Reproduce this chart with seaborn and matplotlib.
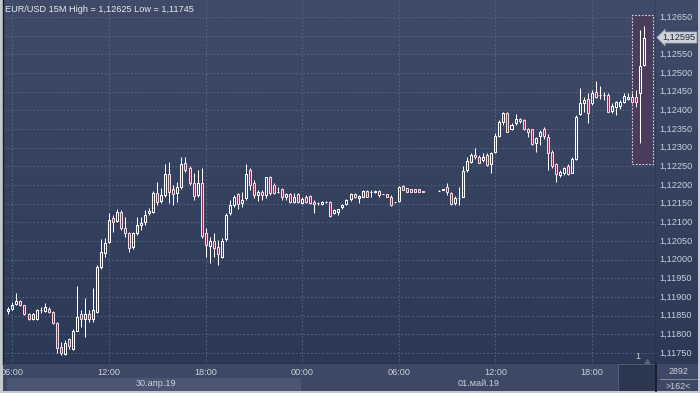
import numpy as np
import pandas as pd
import seaborn as sns
import matplotlib
matplotlib.use('Agg')
import matplotlib.pyplot as plt
import matplotlib.transforms as mtrans
from matplotlib.colors import LinearSegmentedColormap
from matplotlib.patches import Rectangle

# EUR/USD 15 minute candles, 30.04.19 05:45 onwards (nan = no quotes)
nan = np.nan
opens = [1.11862, 1.11869, 1.11882, 1.11888, 1.11878, 1.11854, 1.11842, 1.11842, 1.11864, 1.11863,
         1.11869, 1.11859, 1.11830, 1.11767, 1.11747, 1.11787, 1.11762, 1.11810, 1.11854, 1.11842,
         1.11854, 1.11840, 1.11861, 1.11980, 1.12019, 1.12048, 1.12112, 1.12104, 1.12128, 1.12084,
         1.12071, 1.12033, 1.12071, 1.12093, 1.12102, 1.12124, 1.12128, 1.12179, 1.12158, 1.12173,
         1.12229, 1.12188, 1.12178, 1.12194, 1.12260, 1.12245, 1.12205, 1.12173, 1.12205, 1.12071,
         1.12037, 1.12051, 1.12035, 1.12008, 1.12054, 1.12124, 1.12146, 1.12175, 1.12152, 1.12164,
         1.12240, 1.12205, 1.12173, 1.12182, 1.12173, 1.12221, 1.12200, 1.12182, 1.12188, 1.12169,
         1.12175, 1.12155, 1.12175, 1.12152, 1.12169, 1.12171, 1.12155, 1.12151, 1.12149, 1.12154,
         1.12154, 1.12124, 1.12128, 1.12140, 1.12149, 1.12162, 1.12175, 1.12164, 1.12169, 1.12184,
         1.12181, 1.12180, 1.12184, 1.12176, 1.12175, 1.12169, 1.12154, 1.12158, 1.12198, 1.12191,
         1.12188, 1.12188, 1.12188, 1.12183, nan, nan, nan, 1.12185, 1.12187, 1.12194,
         1.12179, 1.12152, 1.12164, 1.12169, 1.12240, 1.12262, 1.12280, 1.12276, 1.12267, 1.12280,
         1.12255, 1.12289, 1.12331, 1.12370, 1.12394, 1.12349, 1.12365, 1.12377, 1.12374, 1.12349,
         1.12349, 1.12312, 1.12331, 1.12349, 1.12329, 1.12289, 1.12255, 1.12227, 1.12231, 1.12251,
         1.12233, 1.12269, 1.12390, 1.12419, 1.12430, 1.12420, 1.12450, 1.12441, 1.12441, 1.12441,
         1.12399, 1.12410, 1.12412, 1.12423, 1.12430, 1.12435, 1.12435, 1.12446, 1.12521]
highs = [1.11874, 1.11887, 1.11911, 1.11892, 1.11879, 1.11857, 1.11857, 1.11868, 1.11872, 1.11883,
         1.11873, 1.11862, 1.11833, 1.11780, 1.11785, 1.11789, 1.11813, 1.11929, 1.11865, 1.11897,
         1.11865, 1.11923, 1.11986, 1.12054, 1.12058, 1.12124, 1.12120, 1.12135, 1.12133, 1.12115,
         1.12075, 1.12074, 1.12115, 1.12113, 1.12133, 1.12138, 1.12184, 1.12209, 1.12191, 1.12256,
         1.12262, 1.12200, 1.12209, 1.12276, 1.12274, 1.12251, 1.12231, 1.12240, 1.12245, 1.12085,
         1.12062, 1.12071, 1.12053, 1.12057, 1.12124, 1.12160, 1.12173, 1.12179, 1.12182, 1.12256,
         1.12245, 1.12213, 1.12187, 1.12187, 1.12222, 1.12224, 1.12205, 1.12195, 1.12191, 1.12179,
         1.12178, 1.12178, 1.12178, 1.12168, 1.12173, 1.12173, 1.12160, 1.12154, 1.12157, 1.12156,
         1.12156, 1.12137, 1.12137, 1.12149, 1.12162, 1.12178, 1.12178, 1.12172, 1.12187, 1.12187,
         1.12187, 1.12187, 1.12186, 1.12177, 1.12176, 1.12173, 1.12155, 1.12197, 1.12199, 1.12192,
         1.12189, 1.12189, 1.12189, 1.12184, nan, nan, nan, 1.12186, 1.12190, 1.12205,
         1.12182, 1.12171, 1.12194, 1.12251, 1.12276, 1.12285, 1.12298, 1.12280, 1.12285, 1.12285,
         1.12289, 1.12338, 1.12374, 1.12395, 1.12395, 1.12365, 1.12390, 1.12379, 1.12376, 1.12352,
         1.12350, 1.12329, 1.12347, 1.12356, 1.12336, 1.12294, 1.12258, 1.12240, 1.12249, 1.12256,
         1.12275, 1.12387, 1.12459, 1.12436, 1.12446, 1.12454, 1.12479, 1.12465, 1.12450, 1.12446,
         1.12419, 1.12426, 1.12428, 1.12446, 1.12446, 1.12446, 1.12454, 1.12615, 1.12625]
lows = [1.11854, 1.11865, 1.11878, 1.11876, 1.11852, 1.11838, 1.11838, 1.11838, 1.11857, 1.11860,
        1.11857, 1.11828, 1.11749, 1.11745, 1.11745, 1.11762, 1.11758, 1.11808, 1.11820, 1.11794,
        1.11834, 1.11834, 1.11857, 1.11975, 1.12008, 1.12044, 1.12075, 1.12101, 1.12079, 1.12062,
        1.12021, 1.12028, 1.12066, 1.12079, 1.12093, 1.12120, 1.12124, 1.12146, 1.12151, 1.12168,
        1.12151, 1.12146, 1.12155, 1.12189, 1.12235, 1.12200, 1.12160, 1.12169, 1.12058, 1.12008,
        1.11990, 1.12008, 1.11986, 1.12004, 1.12050, 1.12120, 1.12141, 1.12137, 1.12142, 1.12160,
        1.12187, 1.12164, 1.12158, 1.12160, 1.12164, 1.12173, 1.12176, 1.12178, 1.12160, 1.12160,
        1.12152, 1.12151, 1.12152, 1.12149, 1.12151, 1.12149, 1.12124, 1.12146, 1.12146, 1.12151,
        1.12113, 1.12122, 1.12120, 1.12137, 1.12146, 1.12158, 1.12164, 1.12152, 1.12168, 1.12168,
        1.12169, 1.12178, 1.12169, 1.12175, 1.12168, 1.12144, 1.12153, 1.12155, 1.12186, 1.12181,
        1.12181, 1.12181, 1.12181, 1.12180, nan, nan, nan, 1.12184, 1.12186, 1.12173,
        1.12146, 1.12146, 1.12146, 1.12168, 1.12236, 1.12258, 1.12269, 1.12258, 1.12262, 1.12252,
        1.12233, 1.12285, 1.12329, 1.12361, 1.12342, 1.12347, 1.12361, 1.12367, 1.12347, 1.12329,
        1.12307, 1.12289, 1.12307, 1.12322, 1.12240, 1.12245, 1.12209, 1.12221, 1.12227, 1.12227,
        1.12231, 1.12267, 1.12387, 1.12396, 1.12365, 1.12414, 1.12433, 1.12430, 1.12428, 1.12395,
        1.12392, 1.12387, 1.12403, 1.12419, 1.12428, 1.12420, 1.12410, 1.12313, 1.12520]
closes = [1.11869, 1.11878, 1.11889, 1.11878, 1.11854, 1.11842, 1.11854, 1.11864, 1.11864, 1.11872,
          1.11859, 1.11830, 1.11763, 1.11749, 1.11778, 1.11769, 1.11810, 1.11847, 1.11842, 1.11854,
          1.11842, 1.11865, 1.11980, 1.12021, 1.12044, 1.12106, 1.12100, 1.12128, 1.12084, 1.12071,
          1.12030, 1.12071, 1.12093, 1.12099, 1.12120, 1.12130, 1.12178, 1.12155, 1.12173, 1.12229,
          1.12182, 1.12176, 1.12195, 1.12256, 1.12240, 1.12205, 1.12171, 1.12205, 1.12063, 1.12039,
          1.12051, 1.12030, 1.12015, 1.12051, 1.12120, 1.12146, 1.12169, 1.12149, 1.12160, 1.12229,
          1.12200, 1.12173, 1.12182, 1.12173, 1.12221, 1.12179, 1.12179, 1.12182, 1.12169, 1.12175,
          1.12154, 1.12169, 1.12155, 1.12162, 1.12155, 1.12151, 1.12149, 1.12151, 1.12155, 1.12154,
          1.12117, 1.12133, 1.12136, 1.12146, 1.12160, 1.12175, 1.12167, 1.12171, 1.12184, 1.12169,
          1.12181, 1.12184, 1.12173, 1.12176, 1.12169, 1.12146, 1.12154, 1.12194, 1.12187, 1.12182,
          1.12182, 1.12182, 1.12182, 1.12180, nan, nan, nan, 1.12185, 1.12189, 1.12180,
          1.12149, 1.12164, 1.12165, 1.12238, 1.12264, 1.12280, 1.12274, 1.12260, 1.12274, 1.12253,
          1.12285, 1.12331, 1.12370, 1.12394, 1.12343, 1.12361, 1.12377, 1.12372, 1.12349, 1.12343,
          1.12309, 1.12325, 1.12343, 1.12331, 1.12285, 1.12251, 1.12229, 1.12236, 1.12245, 1.12229,
          1.12269, 1.12383, 1.12420, 1.12428, 1.12392, 1.12447, 1.12435, 1.12441, 1.12441, 1.12396,
          1.12412, 1.12423, 1.12423, 1.12438, 1.12435, 1.12423, 1.12423, 1.12520, 1.12595]

price_ticks = [1.1175, 1.1180, 1.1185, 1.1190, 1.1195, 1.1200, 1.1205, 1.1210, 1.1215, 1.1220,
               1.1225, 1.1230, 1.1235, 1.1240, 1.1245, 1.1250, 1.1255, 1.1260, 1.1265]
time_ticks = [1, 25, 49, 73, 97, 121, 145]
time_labels = ['06:00', '12:00', '18:00', '00:00', '06:00', '12:00', '18:00']
day_pos = [36.6, 116.9]
day_labels = ['30.апр.19', '01.май.19']
last_price = 1.12595
title = 'EUR/USD 15M High = 1,12625 Low = 1,11745'

df = pd.DataFrame({'open': opens, 'high': highs, 'low': lows, 'close': closes})
df['n'] = np.arange(len(df))
df = df.dropna()
df['top'] = df[['open', 'close']].max(axis=1)
df['bot'] = df[['open', 'close']].min(axis=1)
up = df[df.close >= df.open]
down = df[df.close < df.open]

sns.set_theme(style='dark')
plt.rcParams['font.family'] = ['Liberation Sans', 'DejaVu Sans']

W, H = 700, 393
def place(x0, y0, x1, y1):
    return [x0 / W, 1 - y1 / H, (x1 - x0) / W, (y1 - y0) / H]

def paint(a, top, bottom):
    cm = LinearSegmentedColormap.from_list('bg', [top, bottom])
    a.imshow(np.linspace(0, 1, 256).reshape(-1, 1), cmap=cm, aspect='auto',
             extent=[0, 1, 0, 1], transform=a.transAxes, zorder=0)

fig = plt.figure(figsize=(7, 3.93), dpi=100, facecolor='#c4c8cf')
ax = fig.add_axes(place(3, 0, 656, 364))
axr = fig.add_axes(place(656, 0, 698, 364))
axb = fig.add_axes(place(3, 364, 656, 391))
axc = fig.add_axes(place(656, 364, 698, 391))

xlim = (-1.34, 160.9)
ylim = (1.117205, 1.126955)

# main panel
paint(ax, '#3f4b68', '#2b3957')
ax.set_xticks(time_ticks)
ax.set_yticks(price_ticks)
ax.grid(True, color='#5d6986', linestyle=(0, (2, 2.5)), linewidth=0.6)
ax.tick_params(labelleft=False, labelbottom=False, length=0)
ax.spines['top'].set_visible(False)
for s in ['left', 'bottom', 'right']:
    ax.spines[s].set_color('#161c2a')
    ax.spines[s].set_linewidth(1.0)

# highlighted last bars
ax.add_patch(Rectangle((154.9, 1.12256), 5.2, 1.12655 - 1.12256, facecolor='#4a3d5b',
                       edgecolor='#ddd5e2', linewidth=0.8, linestyle=(0, (1.5, 1.5)), zorder=2))

ax.vlines(df.n, df.top, df.high, color='white', linewidth=0.75, zorder=3)
ax.vlines(df.n, df.low, df.bot, color='white', linewidth=0.75, zorder=3)
ax.bar(up.n, up.top - up.bot, bottom=up.bot, width=0.5, facecolor='none',
       edgecolor='white', linewidth=0.75, zorder=4)
ax.bar(down.n, down.top - down.bot, bottom=down.bot, width=0.5, facecolor='#8e2a4b',
       edgecolor='#f2d8e0', linewidth=0.75, zorder=4)

ax.text(156.4, 1.11728, '1', color='#c8ced8', fontsize=6.5, ha='center', va='bottom', zorder=5)
ax.plot([158.7], [1.11727], marker='^', markersize=4, color='#59647e', linestyle='none', zorder=5)
ax.set_xlim(*xlim)
ax.set_ylim(*ylim)

# price scale
paint(axr, '#3f4b68', '#2b3957')
axr.set_xlim(0, 1)
axr.set_ylim(*ylim)
axr.axis('off')
tr = mtrans.blended_transform_factory(axr.transAxes, axr.transData)
for p in price_ticks:
    if abs(p - last_price) > 0.0002:
        axr.text(0.07, p, f'{p:.5f}'.replace('.', ','), transform=tr, color='#c9d0dc',
                 fontsize=6.6, ha='left', va='center')
axr.text(0.16, last_price, f'{last_price:.5f}'.replace('.', ','), transform=tr,
         color='#1e2840', fontsize=6.6, ha='left', va='center',
         bbox=dict(boxstyle='larrow,pad=0.12', facecolor='#cfd3da', edgecolor='#8e96a6', linewidth=0.5))

# time axis band
axb.set_facecolor('#3c4865')
axb.set_xlim(*xlim)
axb.set_ylim(0, 1)
axb.set_xticks([])
axb.set_yticks([])
for s in axb.spines.values():
    s.set_visible(False)
axb.add_patch(Rectangle((-0.35, 0.0), 73.05, 0.48, facecolor='#4a5673', edgecolor='none'))
axb.add_patch(Rectangle((151.4, 0.0), 20, 1.0, facecolor='#2b3651', edgecolor='#56617c', linewidth=0.6))
for t, lab in zip(time_ticks, time_labels):
    axb.text(t, 0.70, lab, color='#c9d0dc', fontsize=6.6, ha='center', va='center', clip_on=True)
for d, lab in zip(day_pos, day_labels):
    axb.text(d, 0.29, lab, color='#c9d0dc', fontsize=6.6, ha='center', va='center', clip_on=True)

# corner box
axc.set_facecolor('#3c4865')
axc.set_xlim(0, 1)
axc.set_ylim(0, 1)
axc.set_xticks([])
axc.set_yticks([])
for s in axc.spines.values():
    s.set_visible(False)
axc.spines['left'].set_visible(True)
axc.spines['left'].set_color('#161c2a')
axc.text(0.53, 0.71, '2892', color='#c9d0dc', fontsize=6.4, ha='center', va='center')
axc.plot([0.1, 0.98], [0.44, 0.44], color='#8e97a8', linewidth=0.6)
axc.text(0.53, 0.16, '>162<', color='#c9d0dc', fontsize=6.4, ha='center', va='center')

fig.text(5 / W, 1 - 9 / H, title, color='#e6eaf0', fontsize=6.6, ha='left', va='center')

fig.savefig('out.png', dpi=100, facecolor=fig.get_facecolor())
